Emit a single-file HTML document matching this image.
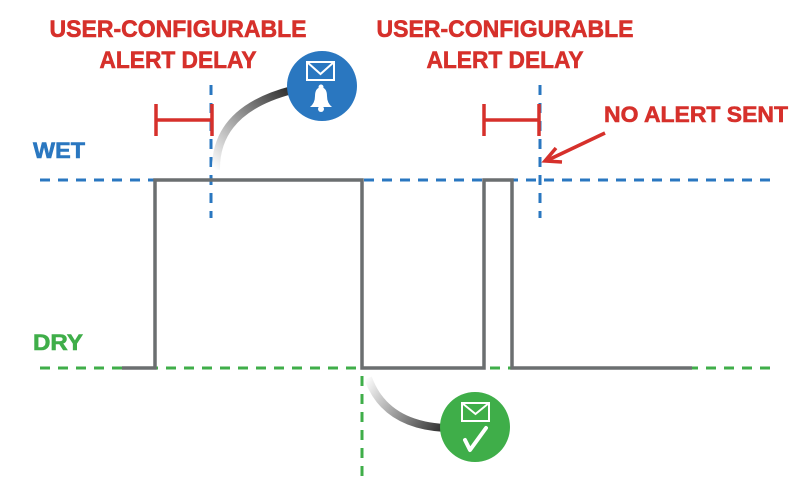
<!DOCTYPE html>
<html><head><meta charset="utf-8"><style>html,body{margin:0;padding:0;background:#fff}svg{display:block}</style></head>
<body>
<svg width="800" height="480" viewBox="0 0 800 480" xmlns="http://www.w3.org/2000/svg" font-family="Liberation Sans, sans-serif" font-weight="bold">
<defs>
<linearGradient id="g1" x1="215" y1="170" x2="295" y2="95" gradientUnits="userSpaceOnUse"><stop offset="0" stop-color="#fff"/><stop offset="1" stop-color="#2e2e2e"/></linearGradient>
<linearGradient id="g2" x1="368" y1="375" x2="445" y2="428" gradientUnits="userSpaceOnUse"><stop offset="0" stop-color="#fff"/><stop offset="1" stop-color="#2e2e2e"/></linearGradient>
</defs>
<g fill="#d6302b" stroke="#d6302b" stroke-width="0.6" font-size="24">
<text x="178" y="37" text-anchor="middle" textLength="257" lengthAdjust="spacingAndGlyphs">USER-CONFIGURABLE</text>
<text x="178" y="68" text-anchor="middle" textLength="157" lengthAdjust="spacingAndGlyphs">ALERT DELAY</text>
<text x="505" y="37" text-anchor="middle" textLength="257" lengthAdjust="spacingAndGlyphs">USER-CONFIGURABLE</text>
<text x="505" y="68" text-anchor="middle" textLength="157" lengthAdjust="spacingAndGlyphs">ALERT DELAY</text>
<text x="604" y="122" font-size="22" textLength="184" lengthAdjust="spacingAndGlyphs">NO ALERT SENT</text>
</g>
<text x="33" y="158" fill="#2a77c0" stroke="#2a77c0" stroke-width="0.6" font-size="22" textLength="52" lengthAdjust="spacingAndGlyphs">WET</text>
<text x="33" y="350" fill="#3fae49" stroke="#3fae49" stroke-width="0.6" font-size="22" textLength="50" lengthAdjust="spacingAndGlyphs">DRY</text>
<g stroke="#2a77c0" stroke-width="3" stroke-dasharray="10 8" fill="none">
<line x1="40" y1="180" x2="775" y2="180"/>
<line x1="211" y1="85" x2="211" y2="218"/>
<line x1="540" y1="85" x2="540" y2="218"/>
</g>
<g stroke="#3fae49" stroke-width="3" stroke-dasharray="10 8" fill="none">
<line x1="40" y1="368" x2="775" y2="368"/>
<line x1="362" y1="340" x2="362" y2="478"/>
</g>
<polyline points="122,368 155,368 155,180 362,180 362,368 484,368 484,180 512,180 512,368 692,368" fill="none" stroke="#6b6f70" stroke-width="3.5"/>
<g stroke="#d6302b" stroke-width="3.5" fill="none">
<path d="M156 104V136M156 120H212M212 104V136"/>
<path d="M484 104V136M484 120H539M539 104V136"/>
<path d="M605 133L548 160"/>
<path d="M556 148L545 161L562 162"/>
</g>
<path d="M216 170 Q215 110 292 90" fill="none" stroke="url(#g1)" stroke-width="8"/>
<path d="M368 378 Q385 425 445 428" fill="none" stroke="url(#g2)" stroke-width="8"/>
<circle cx="322" cy="86" r="35" fill="#2a77c0"/>
<rect x="307" y="62" width="27" height="18" fill="none" stroke="#fff" stroke-width="2"/>
<path d="M307 62L320.5 74L334 62" fill="none" stroke="#fff" stroke-width="2"/>
<path d="M310 107 Q315 103 315 96 Q315 88 321 87 Q327 88 327 96 Q327 103 332 107 Z" fill="#fff"/>
<circle cx="321" cy="87" r="2.5" fill="#fff"/>
<circle cx="321" cy="109" r="3" fill="#fff"/>
<circle cx="475" cy="427" r="35" fill="#3fae49"/>
<rect x="462" y="403" width="27" height="18" fill="none" stroke="#fff" stroke-width="2"/>
<path d="M462 403L475.5 414L489 403" fill="none" stroke="#fff" stroke-width="2"/>
<path d="M465 440L470 450L486 428" fill="none" stroke="#fff" stroke-width="4" stroke-linecap="round" stroke-linejoin="round"/>
</svg>
</body></html>
